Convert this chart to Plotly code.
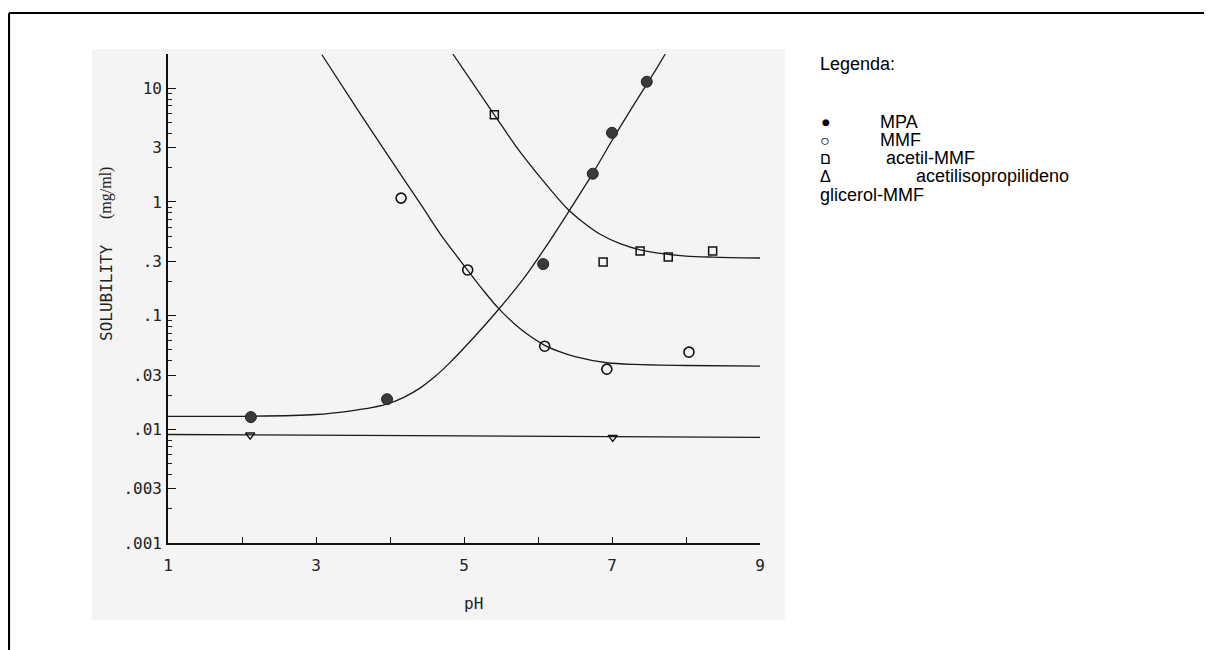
import plotly.graph_objects as go

# ---------------- data ----------------
# measured points
mpa_ph = [2.12, 3.96, 6.07, 6.74, 7.00, 7.47]
mpa_sol = [0.0128, 0.0184, 0.284, 1.77, 4.05, 11.4]

mmf_ph = [4.15, 5.05, 6.09, 6.93, 8.04]
mmf_sol = [1.08, 0.252, 0.0538, 0.0338, 0.0477]

acet_ph = [5.41, 6.88, 7.38, 7.76, 8.36]
acet_sol = [5.84, 0.296, 0.37, 0.328, 0.37]

tri_ph = [2.11, 7.01]
tri_sol = [0.0089, 0.0085]

# fitted curves
mpa_curve_ph = [1.0, 2.0, 3.0, 3.5, 3.75, 4.0, 4.2, 4.4, 4.6, 4.8, 5.15, 5.46, 5.8, 6.1, 6.4, 6.74,
                7.0, 7.3, 7.6, 7.72]
mpa_curve_sol = [0.0130, 0.0130, 0.01349, 0.01462, 0.0155, 0.0170, 0.0193, 0.0229, 0.0288, 0.0380,
                 0.0661, 0.112, 0.209, 0.398, 0.794, 1.78, 3.47, 7.24, 14.8, 20.0]

mmf_curve_ph = [3.08, 3.59, 4.22, 4.45, 4.70, 4.90, 5.05, 5.25, 5.46, 5.76, 6.09, 6.30, 6.50, 6.93, 7.30, 8.01, 9.0]
mmf_curve_sol = [19.7, 6.08, 1.47, 0.88, 0.50, 0.335, 0.250, 0.170, 0.117, 0.0765, 0.0548, 0.0480,
                 0.0436, 0.0385, 0.0372, 0.0364, 0.0359]

acet_curve_ph = [4.85, 5.41, 5.72, 6.00, 6.39, 6.60, 6.84, 7.11, 7.38, 7.60, 8.00, 8.36, 9.0]
acet_curve_sol = [20.0, 5.84, 2.97, 1.74, 0.88, 0.67, 0.52, 0.43, 0.379, 0.356, 0.334, 0.327, 0.321]

tri_curve_ph = [1.0, 5.0, 9.0]
tri_curve_sol = [0.0090, 0.00875, 0.0085]

# axis ticks
x_tickvals = [1, 2, 3, 4, 5, 6, 7, 8, 9]
x_ticktext = ["1", "", "3", "", "5", "", "7", "", "9"]
y_tickvals = [0.001, 0.003, 0.01, 0.03, 0.1, 0.3, 1, 3, 10]
y_ticktext = [".001", ".003", ".01", ".03", ".1", ".3", "1", "3", "10"]
y_minor = [m * d for d in [0.001, 0.01, 0.1, 1, 10] for m in range(2, 10) if m * d <= 20]

legend_title = "Legenda:"
legend_symbols = ["\u25cf", "\u25cb", "\u05dd", "\u0394"]
legend_labels = ["MPA", "MMF", "acetil-MMF", "acetilisopropilideno"]
legend_extra = "glicerol-MMF"
y_title_main = "SOLUBILITY"
y_title_unit = "(mg/ml)"
x_title = "pH"

# ---------------- figure ----------------
fig = go.Figure()
line_style = dict(color="#1a1a1a", width=1.3)

for xs, ys in [(mpa_curve_ph, mpa_curve_sol), (mmf_curve_ph, mmf_curve_sol),
               (acet_curve_ph, acet_curve_sol), (tri_curve_ph, tri_curve_sol)]:
    fig.add_trace(go.Scatter(x=xs, y=ys, mode="lines", line=dict(shape="spline", smoothing=0.8, **line_style),
                             showlegend=False, hoverinfo="skip"))

fig.add_trace(go.Scatter(x=mpa_ph, y=mpa_sol, mode="markers", showlegend=False,
                         marker=dict(symbol="circle", size=11, color="#3a3a3a", line=dict(color="#222", width=1))))
fig.add_trace(go.Scatter(x=mmf_ph, y=mmf_sol, mode="markers", showlegend=False,
                         marker=dict(symbol="circle-open", size=10, color="#111", line=dict(width=1.6))))
fig.add_trace(go.Scatter(x=acet_ph, y=acet_sol, mode="markers", showlegend=False,
                         marker=dict(symbol="square-open", size=8, color="#111", line=dict(width=1.5))))
fig.add_trace(go.Scatter(x=tri_ph, y=tri_sol, mode="markers", showlegend=False,
                         marker=dict(symbol="triangle-down-open", size=8, color="#111", line=dict(width=1.4))))

mono = "DejaVu Sans Mono"
fig.update_xaxes(range=[1, 9], tickvals=x_tickvals, ticktext=x_ticktext, ticks="inside", ticklen=6,
                 tickcolor="#111", showline=True, linecolor="#111", linewidth=1.6, showgrid=False,
                 zeroline=False, ticklabelstandoff=7, tickfont=dict(family=mono, size=16, color="#222"))
fig.update_yaxes(type="log", range=[-3, 1.301], tickvals=y_tickvals, ticktext=y_ticktext, ticks="inside",
                 ticklen=8, tickcolor="#111", showline=True, linecolor="#111", linewidth=1.6, showgrid=False,
                 zeroline=False, ticklabelstandoff=1, tickfont=dict(family=mono, size=16, color="#222"),
                 minor=dict(tickvals=y_minor, ticks="inside", ticklen=4, tickcolor="#222", showgrid=False))

def px(xp):
    return (xp - 168) / 592.0

def py(yp):
    return (543 - yp) / 489.0

shapes = [
    # scanned page background
    dict(type="rect", xref="paper", yref="paper", x0=px(92), x1=px(785), y0=py(620), y1=py(49),
         fillcolor="#f4f4f4", line=dict(width=0), layer="below"),
    # outer frame (right/bottom edges fall outside the picture)
    dict(type="line", xref="paper", yref="paper", x0=px(9), x1=px(1240), y0=py(13), y1=py(13),
         line=dict(color="black", width=2.2)),
    dict(type="line", xref="paper", yref="paper", x0=px(9), x1=px(9), y0=py(13), y1=py(680),
         line=dict(color="black", width=2.2)),
]

sans = "Arial, Liberation Sans, sans-serif"
ann = []
ann.append(dict(x=px(818), y=py(64), text=legend_title, xanchor="left", yanchor="middle",
                font=dict(family=sans, size=18, color="black")))
rows_y = [122, 140, 158, 176]
text_x = [878, 878, 884, 914]
sym_fonts = [dict(family="DejaVu Sans", size=9), dict(family=sans, size=16),
             dict(family=sans, size=16), dict(family=sans, size=16)]
sym_x = [820, 818, 818, 818]
for sym, lab, yy, tx, sf, sx in zip(legend_symbols, legend_labels, rows_y, text_x, sym_fonts, sym_x):
    ann.append(dict(x=px(sx), y=py(yy), text=sym, xanchor="left", yanchor="middle",
                    font=dict(color="black", **sf)))
    ann.append(dict(x=px(tx), y=py(yy), text=lab, xanchor="left", yanchor="middle",
                    font=dict(family=sans, size=18, color="black")))
ann.append(dict(x=px(818), y=py(195), text=legend_extra, xanchor="left", yanchor="middle",
                font=dict(family=sans, size=18, color="black")))
for a in ann:
    a.update(xref="paper", yref="paper", showarrow=False)

ann.append(dict(x=px(106), y=py(293), xref="paper", yref="paper", showarrow=False, textangle=-90,
                text=y_title_main, font=dict(family=mono, size=16, color="#222"),
                xanchor="center", yanchor="middle"))
ann.append(dict(x=px(106), y=py(193), xref="paper", yref="paper", showarrow=False, textangle=-90,
                text=y_title_unit, font=dict(family="Liberation Serif", size=16, color="#222"),
                xanchor="center", yanchor="middle"))
ann.append(dict(x=px(473), y=py(603), xref="paper", yref="paper", showarrow=False, text=x_title,
                font=dict(family=mono, size=16, color="#222"), xanchor="center", yanchor="middle"))

fig.update_layout(width=1204, height=642, margin=dict(l=160, r=452, t=46, b=107),
                  paper_bgcolor="white", plot_bgcolor="rgba(0,0,0,0)",
                  shapes=shapes, annotations=ann, showlegend=False)

fig.write_html("out.html")
